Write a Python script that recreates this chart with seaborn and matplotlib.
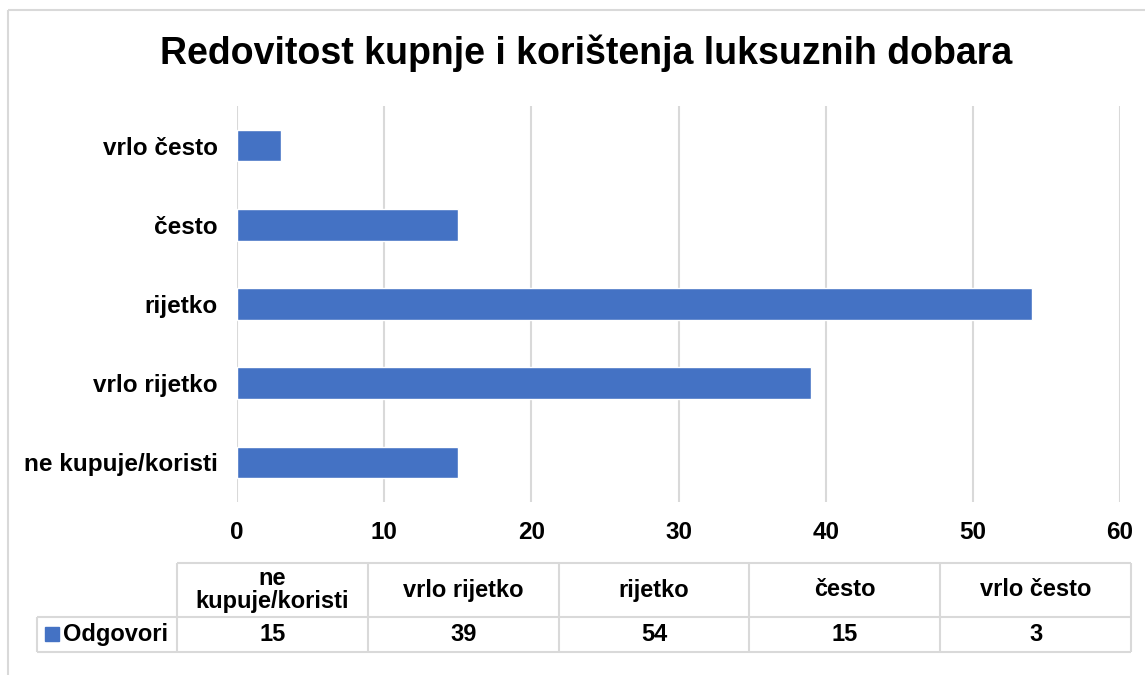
import textwrap
import matplotlib
matplotlib.use("Agg")
import matplotlib.pyplot as plt
import seaborn as sns
import pandas as pd
from matplotlib.patches import Rectangle

# data
categories = ["ne kupuje/koristi", "vrlo rijetko", "rijetko", "često", "vrlo često"]
odgovori = [15, 39, 54, 15, 3]
series_name = "Odgovori"
x_ticks = [0, 10, 20, 30, 40, 50, 60]
title = "Redovitost kupnje i korištenja luksuznih dobara"

BAR = "#4472C4"
GRID = "#D9D9D9"
W, H = 1145, 675

sns.set_theme(style="white")
plt.rcParams["font.family"] = ["Liberation Sans", "DejaVu Sans"]
plt.rcParams["text.color"] = "black"
plt.rcParams["xtick.color"] = "black"
plt.rcParams["ytick.color"] = "black"

df = pd.DataFrame({"kategorija": categories, "broj": odgovori})

fig = plt.figure(figsize=(W / 100, H / 100), dpi=100)

# overlay in pixel coords for the frame and the data table
tab = fig.add_axes([0, 0, 1, 1])
tab.set_xlim(0, W)
tab.set_ylim(H, 0)
tab.axis("off")
tab.add_patch(Rectangle((8, 10), W, H, fill=False, ec=GRID, lw=1.5))

ax = fig.add_axes([237 / W, 1 - 502 / H, (1120 - 237) / W, (502 - 106) / H])
sns.barplot(data=df, y="kategorija", x="broj", order=categories[::-1],
            color=BAR, saturation=1, width=0.4, ax=ax)
ax.set_xlim(0, 60)
ax.set_xticks(x_ticks)
ax.xaxis.grid(True, color=GRID, lw=1.5)
ax.set_axisbelow(True)
for s in ax.spines.values():
    s.set_visible(False)
ax.tick_params(axis="both", length=0)
ax.tick_params(axis="y", pad=14, labelsize=17.5)
ax.tick_params(axis="x", pad=14, labelsize=17.5)
for lab in ax.get_xticklabels() + ax.get_yticklabels():
    lab.set_fontweight("bold")
ax.set_xlabel("")
ax.set_ylabel("")
ax.patch.set_alpha(0)

fig.text(586 / W, 1 - 53 / H, title, ha="center", va="center",
         fontsize=27, fontweight="bold")

# data table under the chart
t_left, t_lab, t_right = 37, 177, 1131
t_top, t_mid, t_bot = 563, 617, 652
col_w = (t_right - t_lab) / len(categories)
lk = dict(color=GRID, lw=1.5, solid_capstyle="butt")
tab.plot([t_lab, t_right], [t_top, t_top], **lk)
tab.plot([t_left, t_right], [t_mid, t_mid], **lk)
tab.plot([t_left, t_right], [t_bot, t_bot], **lk)
tab.plot([t_left, t_left], [t_mid, t_bot], **lk)
for i in range(len(categories) + 1):
    xx = t_lab + i * col_w
    tab.plot([xx, xx], [t_top, t_bot], **lk)

for i, (cat, val) in enumerate(zip(categories, odgovori)):
    xc = t_lab + (i + 0.5) * col_w
    tab.text(xc, (t_top + t_mid) / 2, textwrap.fill(cat, 15), ha="center",
             va="center", fontsize=17, fontweight="bold", linespacing=1.0)
    tab.text(xc, (t_mid + t_bot) / 2, str(val), ha="center", va="center",
             fontsize=17, fontweight="bold")

tab.add_patch(Rectangle((45, 627), 14, 14, color=BAR))
tab.text(63, (t_mid + t_bot) / 2, series_name, ha="left", va="center",
         fontsize=17, fontweight="bold")

fig.savefig("out.png", dpi=100, facecolor="white")
